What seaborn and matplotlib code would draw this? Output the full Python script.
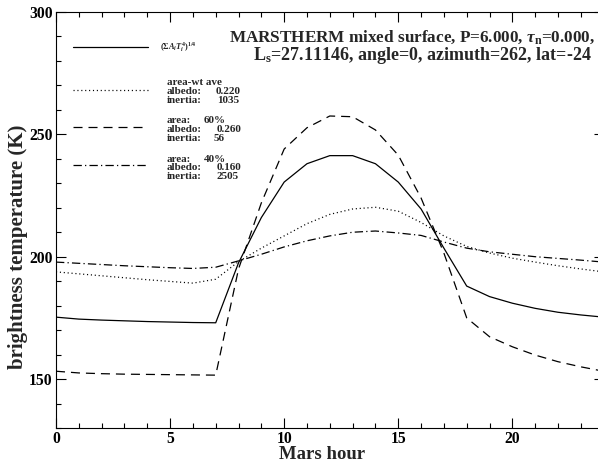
import matplotlib
matplotlib.use("Agg")
import matplotlib.pyplot as plt
import seaborn as sns
import pandas as pd

# Mars hour, sampled hourly
hours = list(range(25))

# (sum A_i T_i^4)^(1/4) mixed surface
mixed_t = [175.3, 174.5, 174.1, 173.8, 173.5, 173.3, 173.1, 173.0, 197.5, 216.0,
           230.5, 238.0, 241.3, 241.3, 238.0, 230.5, 219.5, 203.5, 188.0, 183.7,
           181.0, 178.9, 177.3, 176.2, 175.3]
# area-weighted average surface
avg_t = [193.8, 193.0, 192.2, 191.4, 190.6, 189.9, 189.2, 190.8, 198.0, 203.5,
         208.5, 213.5, 217.3, 219.5, 220.2, 218.6, 214.0, 208.5, 204.2, 201.5,
         199.4, 197.8, 196.3, 195.0, 193.8]
# 60% component
low_inertia_t = [153.2, 152.5, 152.2, 152.0, 151.9, 151.8, 151.7, 151.6, 195.0, 222.0,
                 244.0, 252.7, 257.5, 257.2, 251.8, 241.5, 224.0, 201.5, 175.0, 167.3,
                 163.2, 159.8, 157.1, 155.0, 153.2]
# 40% component
high_inertia_t = [197.8, 197.3, 196.8, 196.3, 195.9, 195.5, 195.2, 195.7, 198.3, 201.0,
                  204.0, 206.5, 208.5, 210.0, 210.5, 209.7, 208.7, 206.0, 203.5, 202.0,
                  201.0, 200.0, 199.3, 198.6, 197.8]

series_names = ["mixed", "average", "area60", "area40"]
series_vals = [mixed_t, avg_t, low_inertia_t, high_inertia_t]

# annotation rows next to the legend samples: (label, value)
info_labels = ["area-wt ave", "albedo:", "inertia:",
               "area:", "albedo:", "inertia:",
               "area:", "albedo:", "inertia:"]
info_values = ["", "0.220", "1035",
               "60%", "0.260", "56",
               "40%", "0.160", "2505"]

sns.set_style("ticks")
plt.rcParams["font.family"] = ["Liberation Serif", "DejaVu Serif"]
plt.rcParams["font.weight"] = "bold"
plt.rcParams["mathtext.fontset"] = "custom"
plt.rcParams["mathtext.rm"] = "Liberation Serif:bold"
plt.rcParams["mathtext.it"] = "Liberation Serif:italic:bold"
plt.rcParams["mathtext.bf"] = "Liberation Serif:bold"
plt.rcParams["lines.scale_dashes"] = False

df = pd.DataFrame({
    "hour": hours * len(series_names),
    "temp": sum(series_vals, []),
    "series": [n for n in series_names for _ in hours],
})

dash_map = {
    "mixed": "",
    "average": (0.8, 2.0),
    "area60": (6.5, 4.3),
    "area40": (6.0, 2.3, 0.9, 2.3),
}

fig = plt.figure(figsize=(5.98, 4.63), dpi=100)
ax = fig.add_axes([56 / 598, 35 / 463, 547.6 / 598, 416 / 463])

sns.lineplot(data=df, x="hour", y="temp", style="series", dashes=dash_map,
             color="black", linewidth=0.9, estimator=None, legend=False, ax=ax)

ax.set_xlim(0, 24)
ax.set_ylim(130, 300)
ax.set_xticks([0, 5, 10, 15, 20])
ax.set_xticks(range(0, 25), minor=True)
ax.set_yticks([150, 200, 250, 300])
ax.set_yticks(range(130, 301, 10), minor=True)
ax.tick_params(which="both", direction="in", top=True, right=True, width=0.8,
               colors="black")
ax.tick_params(which="major", length=7, labelsize=11.3, pad=2)
ax.tick_params(which="minor", length=3.6)
ax.tick_params(axis="y", which="major", pad=2.5)
for lab in ax.get_xticklabels() + ax.get_yticklabels():
    lab.set_fontweight("bold")
for sp in ax.spines.values():
    sp.set_linewidth(0.8)
    sp.set_color("black")

ax.set_xlabel("Mars hour", fontsize=13.5, fontweight="bold")
ax.set_ylabel("brightness temperature (K)", fontsize=15, fontweight="bold")
ax.xaxis.set_label_coords(0.486, -0.043)
ax.yaxis.set_label_coords(-0.052, 0.435)

# legend samples and labels
tr = ax.transAxes
leg_y = [0.915, 0.8125, 0.7243, 0.6322]
for yy, name in zip(leg_y, series_names):
    d = dash_map[name]
    kw = {} if d == "" else {"dashes": d}
    ax.plot([0.0305, 0.1685], [yy, yy], color="black", linewidth=0.9,
            transform=tr, **kw)

ax.text(0.19, 0.915, r"$(\Sigma A_iT_i^4)^{1/4}$", fontsize=6, transform=tr,
        va="center", ha="left")

row_y = [82.7, 91.7, 100.7, 120.7, 129.5, 138.7, 159.3, 167.8, 176.7]
value_x = [216, 216, 216.7, 204, 216.7, 213.3, 204, 216.7, 216.7]
for lab, val, py, vx in zip(info_labels, info_values, row_y, value_x):
    yy = (428 - py) / 416
    ax.text((167 - 56) / 547.6, yy, lab, fontsize=8.0, fontweight="bold",
            transform=tr, va="center", ha="left")
    if val:
        ax.text((vx - 56) / 547.6, yy, val, fontsize=8.0, fontweight="bold",
                transform=tr, va="center", ha="left")

fig.text(595 / 598, 1 - 42 / 463,
         r"MARSTHERM mixed surface, P=6.000, $\tau_{\rm n}$=0.000,",
         fontsize=12.3, fontweight="bold", ha="right", va="baseline")
fig.text(592 / 598, 1 - 60 / 463,
         r"L$_{\rm s}$=27.11146, angle=0, azimuth=262, lat=-24",
         fontsize=13.0, fontweight="bold", ha="right", va="baseline")

fig.savefig("out.png", dpi=100)
